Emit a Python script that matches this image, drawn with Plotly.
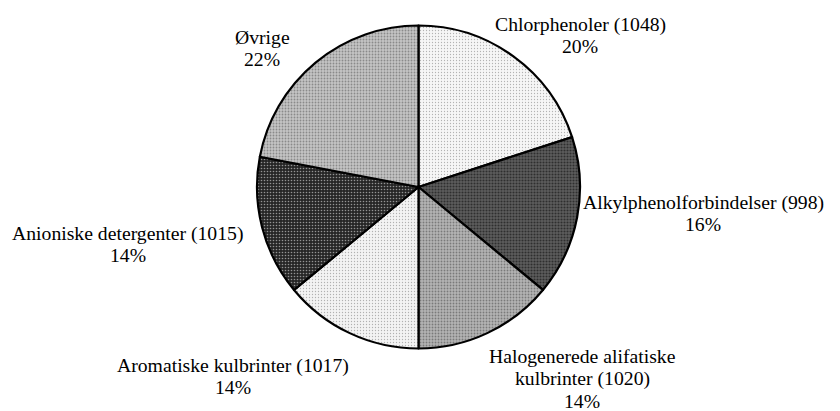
import plotly.graph_objects as go

# ---- data ----
categories = [
    "Chlorphenoler",
    "Alkylphenolforbindelser",
    "Halogenerede alifatiske kulbrinter",
    "Aromatiske kulbrinter",
    "Anioniske detergenter",
    "Øvrige",
]
codes = ["1048", "998", "1020", "1017", "1015", ""]
shares = [20, 16, 14, 14, 14, 22]

# ---- styles ----
bg_colors = ["#f6f6f6", "#5e5e5e", "#b4b4b4", "#f3f3f3", "#262626", "#c4c4c4"]
fg_colors = ["#707070", "#000000", "#404040", "#707070", "#ffffff", "#505050"]
solidity = [0.14, 0.4, 0.3, 0.16, 0.22, 0.3]

# page offset of the plot div (default body margin of the html page)
OFF = 8
# label placement in window pixels: block centre x, first-line centre y
label_pos = [
    (580, 24),
    (703, 202),
    (582, 356),
    (233, 365),
    (128, 233),
    (262, 37),
]
label_breaks = [None, None, "alifatiske", None, None, None]

W, H = 840 - OFF, 411 - OFF
cx, cy, r = 418.5 - OFF, 187.0 - OFF, 161.5
LINE = 22.3
FONT = dict(family="Liberation Serif, Times New Roman, serif", size=19.7, color="#000000")

fig = go.Figure(
    go.Pie(
        labels=categories,
        values=shares,
        sort=False,
        direction="clockwise",
        rotation=0,
        textinfo="none",
        marker=dict(
            colors=bg_colors,
            line=dict(color="#000000", width=2.2),
            pattern=dict(
                shape=".",
                fgcolor=fg_colors,
                bgcolor=bg_colors,
                size=3,
                solidity=solidity,
                fillmode="overlay",
            ),
        ),
        domain=dict(
            x=[(cx - r) / W, (cx + r) / W],
            y=[(H - cy - r) / H, (H - cy + r) / H],
        ),
        showlegend=False,
        hoverinfo="label+percent",
    )
)

annotations = []
total = sum(shares)
for name, code, val, (x, y0), brk in zip(categories, codes, shares, label_pos, label_breaks):
    name_txt = name + (f" ({code})" if code else "")
    if brk:
        i = name_txt.index(brk) + len(brk)
        lines = [name_txt[:i].strip(), name_txt[i:].strip()]
    else:
        lines = [name_txt]
    lines.append(f"{round(100 * val / total)}%")
    for k, ln in enumerate(lines):
        annotations.append(
            dict(
                x=(x - OFF) / W,
                y=(H - (y0 - OFF + k * LINE)) / H,
                xref="paper",
                yref="paper",
                text=ln,
                showarrow=False,
                xanchor="center",
                yanchor="middle",
                font=FONT,
            )
        )

fig.update_layout(
    width=W,
    height=H,
    margin=dict(l=0, r=0, t=0, b=0),
    paper_bgcolor="#ffffff",
    plot_bgcolor="#ffffff",
    annotations=annotations,
)

fig.write_html("out.html")
